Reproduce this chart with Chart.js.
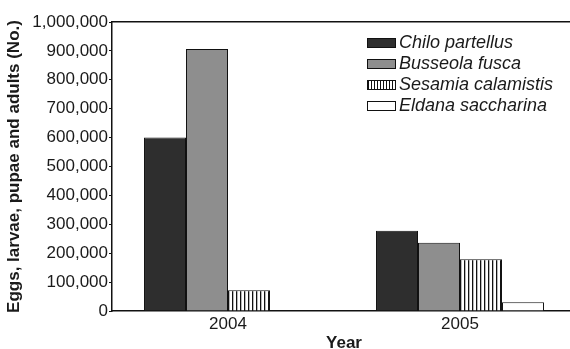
<!DOCTYPE html>
<html>
<head>
<meta charset="utf-8">
<script src="https://cdn.jsdelivr.net/npm/chart.js@4/dist/chart.umd.min.js"></script>
<style>
  html, body { margin: 0; padding: 0; overflow: hidden; background: #fff; }
  #wrap { position: relative; width: 580px; height: 349px; }
  #legend { position: absolute; left: 367px; top: 32px; font-family: "Liberation Sans", Arial, sans-serif; font-style: italic; font-size: 18px; color: #1a1a1a; }
  .row { display: flex; align-items: center; height: 21px; }
  .box { width: 29px; height: 10px; border: 1px solid #111; margin-right: 3px; box-sizing: border-box; }
</style>
</head>
<body>
<div id="wrap">
  <canvas id="c"></canvas>
  <div id="legend"></div>
</div>
<script>
const categories = ["2004", "2005"];
const seriesNames = ["Chilo partellus", "Busseola fusca", "Sesamia calamistis", "Eldana saccharina"];
const chiloValues = [600000, 278000];
const busseolaValues = [907000, 236000];
const sesamiaValues = [72000, 179000];
const eldanaValues = [0, 30000];
const yTickValues = [0, 100000, 200000, 300000, 400000, 500000, 600000, 700000, 800000, 900000, 1000000];

function stripePattern() {
  const p = document.createElement('canvas');
  p.width = 4; p.height = 4;
  const g = p.getContext('2d');
  g.fillStyle = '#fff'; g.fillRect(0, 0, 4, 4);
  g.fillStyle = '#111'; g.fillRect(0, 0, 1.3, 4);
  return document.getElementById('c').getContext('2d').createPattern(p, 'repeat');
}

const fills = ['#2e2e2e', '#8e8e8e', stripePattern(), '#ffffff'];
const legendCss = ['#2e2e2e', '#8e8e8e', 'repeating-linear-gradient(90deg, #111 0px, #111 1px, #fff 1px, #fff 3px)', '#ffffff'];
const seriesValues = [chiloValues, busseolaValues, sesamiaValues, eldanaValues];

const FONT = '"Liberation Sans", Arial, sans-serif';
const TXT = '#1a1a1a';

new Chart(document.getElementById('c'), {
  type: 'bar',
  data: {
    labels: categories,
    datasets: seriesNames.map((n, i) => ({
      label: n,
      data: seriesValues[i],
      backgroundColor: fills[i],
      borderColor: '#111',
      borderWidth: 1,
      categoryPercentage: 0.724,
      barPercentage: 1.0
    }))
  },
  options: {
    responsive: true,
    maintainAspectRatio: false,
    animation: false,
    layout: { padding: { top: 22, right: 4, left: 0, bottom: 0 } },
    plugins: { legend: { display: false }, tooltip: { enabled: false } },
    scales: {
      x: {
        grid: { display: true, drawOnChartArea: false, drawTicks: false },
        border: { display: true, color: '#111', width: 1.5 },
        ticks: { color: TXT, font: { family: FONT, size: 17 }, padding: 3 },
        title: { display: true, text: 'Year', color: TXT, font: { family: FONT, size: 17, weight: 'bold' }, padding: { top: 0, bottom: -5 } },
        afterFit: s => { s.height = 38; }
      },
      x2: {
        type: 'linear', position: 'top', min: 0, max: 1,
        grid: { display: true, drawOnChartArea: false, drawTicks: false },
        border: { display: true, color: '#111', width: 1.5 },
        ticks: { display: false }
      },
      y: {
        min: 0, max: 1000000,
        afterBuildTicks: s => { s.ticks = yTickValues.map(v => ({ value: v })); },
        grid: { display: true, drawOnChartArea: false, drawTicks: true, tickLength: 3, color: '#111' },
        border: { display: true, color: '#111', width: 1.5 },
        ticks: { color: TXT, font: { family: FONT, size: 17 }, padding: 1, callback: v => v.toLocaleString('en-US') },
        title: { display: true, text: 'Eggs, larvae, pupae and adults (No.)', color: TXT, font: { family: FONT, size: 17, weight: 'bold' }, padding: { top: 4, bottom: 0 } },
        afterFit: s => { s.width = 112; }
      }
    }
  }
});

const leg = document.getElementById('legend');
seriesNames.forEach((n, i) => {
  const r = document.createElement('div'); r.className = 'row';
  const b = document.createElement('div'); b.className = 'box'; b.style.background = legendCss[i];
  const t = document.createElement('span'); t.textContent = n;
  r.appendChild(b); r.appendChild(t); leg.appendChild(r);
});
</script>
</body>
</html>
